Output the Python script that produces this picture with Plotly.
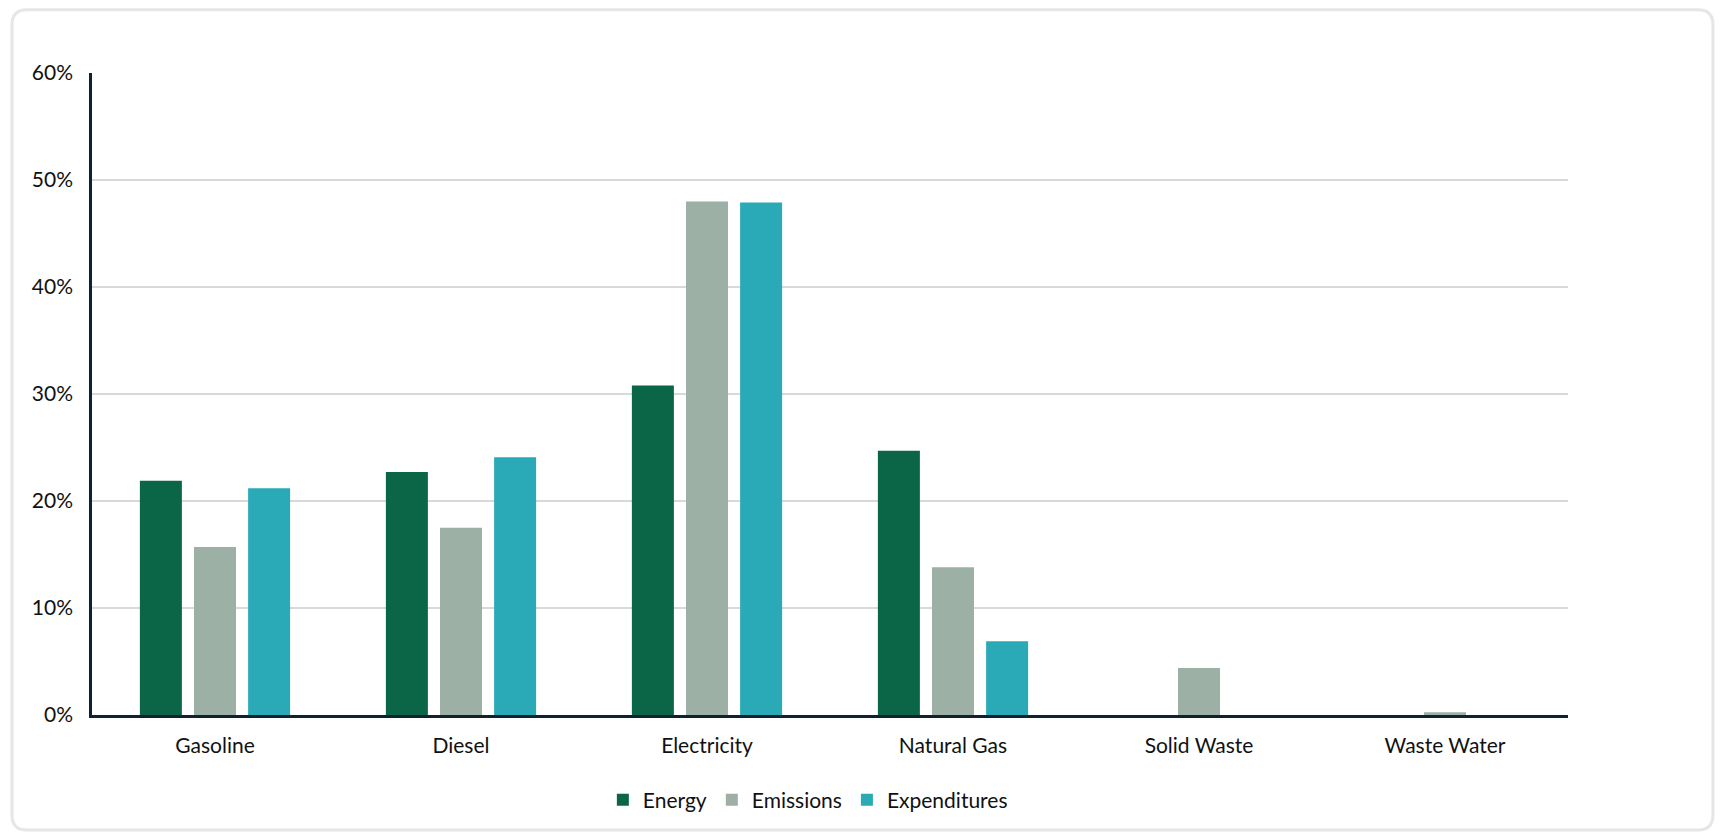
import plotly.graph_objects as go

categories = ["Gasoline", "Diesel", "Electricity", "Natural Gas", "Solid Waste", "Waste Water"]
energy = [21.9, 22.7, 30.8, 24.7, 0, 0]
emissions = [15.7, 17.5, 48.0, 13.8, 4.4, 0.25]
expenditures = [21.2, 24.1, 47.9, 6.9, 0, 0]
y_ticks = [0, 10, 20, 30, 40, 50, 60]
y_tick_labels = ["0%", "10%", "20%", "30%", "40%", "50%", "60%"]

FONT = "Lato, 'Open Sans', sans-serif"
TXT = "#111111"
FS = 21

fig = go.Figure()
fig.add_trace(go.Bar(name="Energy", x=categories, y=energy, marker_color="#0b6647", marker_line_width=0))
fig.add_trace(go.Bar(name="Emissions", x=categories, y=emissions, marker_color="#9cb0a6", marker_line_width=0))
fig.add_trace(go.Bar(name="Expenditures", x=categories, y=expenditures, marker_color="#2aa9b7", marker_line_width=0))

# border box (paper coords)
L, R, T, B = -0.0542, 1.0982, 1.0985, -0.1791
rx, ry = 0.0102, 0.0234
border_path = (f"M {L+rx},{T} L {R-rx},{T} Q {R},{T} {R},{T-ry} "
               f"L {R},{B+ry} Q {R},{B} {R-rx},{B} "
               f"L {L+rx},{B} Q {L},{B} {L},{B+ry} "
               f"L {L},{T-ry} Q {L},{T} {L+rx},{T} Z")

fig.update_layout(
    width=1714, height=824,
    paper_bgcolor="white", plot_bgcolor="white",
    margin=dict(l=84, r=154, t=65, b=117, autoexpand=False),
    barmode="group", bargap=0.34, bargroupgap=0.224,
    font=dict(family=FONT, size=FS, color=TXT),
    showlegend=True,
    legend=dict(orientation="h", x=0.485, xanchor="center", y=-0.1324, yanchor="middle",
                font=dict(family=FONT, size=FS, color=TXT), traceorder="normal",
                itemwidth=30, bgcolor="rgba(0,0,0,0)"),
    xaxis=dict(showgrid=False, showline=True, linecolor="#0e2233", linewidth=2.5,
               ticks="", tickfont=dict(family=FONT, size=FS, color=TXT), ticklabelstandoff=10,
               zeroline=False),
    yaxis=dict(range=[0, 60], tickvals=y_ticks, ticktext=y_tick_labels,
               showgrid=True, gridcolor="#d9d9d9", gridwidth=1.5,
               showline=True, linecolor="#0e2233", linewidth=2.5,
               ticks="", ticklabelstandoff=12, zeroline=False,
               tickfont=dict(family=FONT, size=FS, color=TXT)),
    shapes=[dict(type="path", xref="paper", yref="paper", layer="below",
                 path=border_path,
                 line=dict(color="#e6e6e6", width=3), fillcolor="rgba(0,0,0,0)")],
)

fig.write_html("out.html")
